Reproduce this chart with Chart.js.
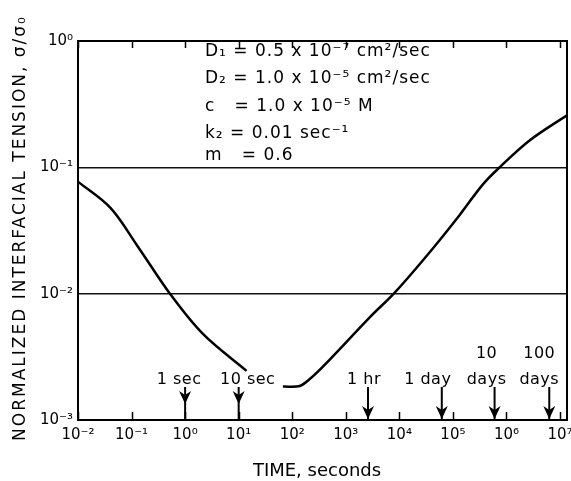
<!DOCTYPE html>
<html>
<head>
<meta charset="utf-8">
<script src="https://cdn.jsdelivr.net/npm/chart.js@4.4.1/dist/chart.umd.min.js"></script>
<style>
  html, body { margin: 0; padding: 0; background: #fff; }
  #wrap { width: 571px; height: 481px; }
</style>
</head>
<body>
<div id="wrap"><canvas id="chart"></canvas></div>
<script>
// curve (null = break in the line under the "10 sec" label)
const timeSeconds  = [0.01, 0.04, 0.126, 0.52, 2.15, 14, 30, 67, 138, 215, 443, 2800, 8200, 36900, 134000, 360000, 746000, 2.7e6, 1.32e7]
const tensionRatio = [0.077, 0.048, 0.0242, 0.01, 0.0048, 0.00245, null, 0.00184, 0.00186, 0.00212, 0.00285, 0.0065, 0.0102, 0.0213, 0.042, 0.073, 0.1, 0.163, 0.257]

const xTickValues = [1e-2, 1e-1, 1e0, 1e1, 1e2, 1e3, 1e4, 1e5, 1e6, 1e7]
const yTickValues = [1e-3, 1e-2, 1e-1, 1e0]

// time markers along the bottom
const eventTimes  = [1, 10, 2600, 62000, 600000, 6.3e6]
const eventLabels = [["1 sec"], ["10 sec"], ["1 hr"], ["1 day"], ["10", "days"], ["100", "days"]]

const parameterLines = [
    "D\u2081 = 0.5 x 10\u207B\u2077 cm\u00B2/sec",
    "D\u2082 = 1.0 x 10\u207B\u2075 cm\u00B2/sec",
    "c   = 1.0 x 10\u207B\u2075 M",
    "k\u2082 = 0.01 sec\u207B\u00B9",
    "m   = 0.6"
]

const yTitle = "NORMALIZED INTERFACIAL TENSION, \u03C3/\u03C3\u2080"
const xTitle = "TIME, seconds"

const SUP = {"-": "\u207B", "0": "\u2070", "1": "\u00B9", "2": "\u00B2", "3": "\u00B3", "4": "\u2074",
             "5": "\u2075", "6": "\u2076", "7": "\u2077", "8": "\u2078", "9": "\u2079"}

function powerLabel(v){
    const e = Math.round(Math.log10(v))
    return "10" + String(e).split("").map(c => SUP[c]).join("")
}

const FONT = "DejaVu Sans"
Chart.defaults.font.family = FONT
Chart.defaults.color = "#000"

const labelShift = [-6, 9, -4, -14, -8, -10]
const paramRowY = [52, 79, 107, 134, 156]

const decorations = {
    id: "decorations",
    afterDraw(chart){
        const {ctx, chartArea: a, scales: {x}} = chart
        ctx.save()
        ctx.strokeStyle = "#000"
        ctx.fillStyle = "#000"

        // frame
        ctx.lineWidth = 2
        ctx.strokeRect(a.left, a.top, a.right - a.left, a.bottom - a.top)

        // decade ticks pointing inward, bottom and top
        ctx.lineWidth = 1.5
        for(const v of xTickValues){
            const px = Math.round(x.getPixelForValue(v)) + 0.5
            ctx.beginPath()
            ctx.moveTo(px, a.bottom); ctx.lineTo(px, a.bottom - 8)
            ctx.moveTo(px, a.top); ctx.lineTo(px, a.top + 7)
            ctx.stroke()
        }

        // arrows with their labels
        ctx.font = `16px "${FONT}"`
        ctx.letterSpacing = "0.5px"
        ctx.textAlign = "center"
        ctx.textBaseline = "middle"
        eventTimes.forEach((t, i) => {
            const px = x.getPixelForValue(t)
            const tip = i < 2 ? a.bottom - 16 : a.bottom - 1
            ctx.lineWidth = 2
            ctx.beginPath()
            ctx.moveTo(px, a.bottom - 33); ctx.lineTo(px, a.bottom)
            ctx.stroke()
            ctx.beginPath()
            ctx.moveTo(px, tip)
            ctx.lineTo(px - 6, tip - 13)
            ctx.lineTo(px, tip - 9)
            ctx.lineTo(px + 6, tip - 13)
            ctx.closePath()
            ctx.fill()
            const lines = eventLabels[i]
            lines.forEach((txt, j) => {
                const yy = a.bottom - 40 - (lines.length - 1 - j) * 26
                ctx.fillText(txt, px + labelShift[i], yy)
            })
        })

        // parameter block
        ctx.font = `17px "${FONT}"`
        ctx.letterSpacing = "1px"
        ctx.textAlign = "left"
        parameterLines.forEach((txt, i) => ctx.fillText(txt, 205, paramRowY[i]))

        // axis titles
        ctx.font = `18px "${FONT}"`
        ctx.letterSpacing = "0px"
        ctx.textAlign = "center"
        ctx.fillText(xTitle, 317, 471)

        ctx.translate(21, 228)
        ctx.rotate(-Math.PI / 2)
        ctx.font = `17px "${FONT}"`
        ctx.letterSpacing = "2px"
        ctx.fillText(yTitle, 0, 0)
        ctx.restore()
    }
}

const points = timeSeconds.map((t, i) => ({x: t, y: tensionRatio[i]}))

new Chart(document.getElementById("chart"), {
    type: "line",
    data: {
        datasets: [{
            data: points,
            borderColor: "#000",
            borderWidth: 2.5,
            pointRadius: 0,
            tension: 0.35,
            spanGaps: false
        }]
    },
    options: {
        responsive: true,
        maintainAspectRatio: false,
        animation: false,
        layout: {autoPadding: false, padding: {top: 41, right: 4, left: 0, bottom: 0}},
        plugins: {legend: {display: false}, tooltip: {enabled: false}},
        scales: {
            x: {
                type: "logarithmic",
                min: 0.01,
                max: 1.35e7,
                afterBuildTicks: scale => { scale.ticks = xTickValues.map(v => ({value: v, major: true})) },
                afterFit: scale => {
                    scale.height = 61
                    scale.paddingLeft = 0
                    scale.paddingRight = 0
                },
                ticks: {callback: v => powerLabel(v), font: {size: 15}, padding: 6, maxRotation: 0, autoSkip: false, color: "#000"},
                grid: {drawOnChartArea: false, drawTicks: false},
                border: {display: true, color: "#000", width: 2}
            },
            y: {
                type: "logarithmic",
                min: 0.001,
                max: 1,
                afterBuildTicks: scale => { scale.ticks = yTickValues.map(v => ({value: v, major: true})) },
                afterFit: scale => {
                    scale.width = 78
                    scale.paddingTop = 0
                    scale.paddingBottom = 0
                },
                ticks: {callback: v => powerLabel(v), font: {size: 15}, padding: 5, autoSkip: false, color: "#000"},
                grid: {color: "#111", lineWidth: 1.5, drawTicks: false},
                border: {display: true, color: "#000", width: 2}
            }
        }
    },
    plugins: [decorations]
})
</script>
</body>
</html>
